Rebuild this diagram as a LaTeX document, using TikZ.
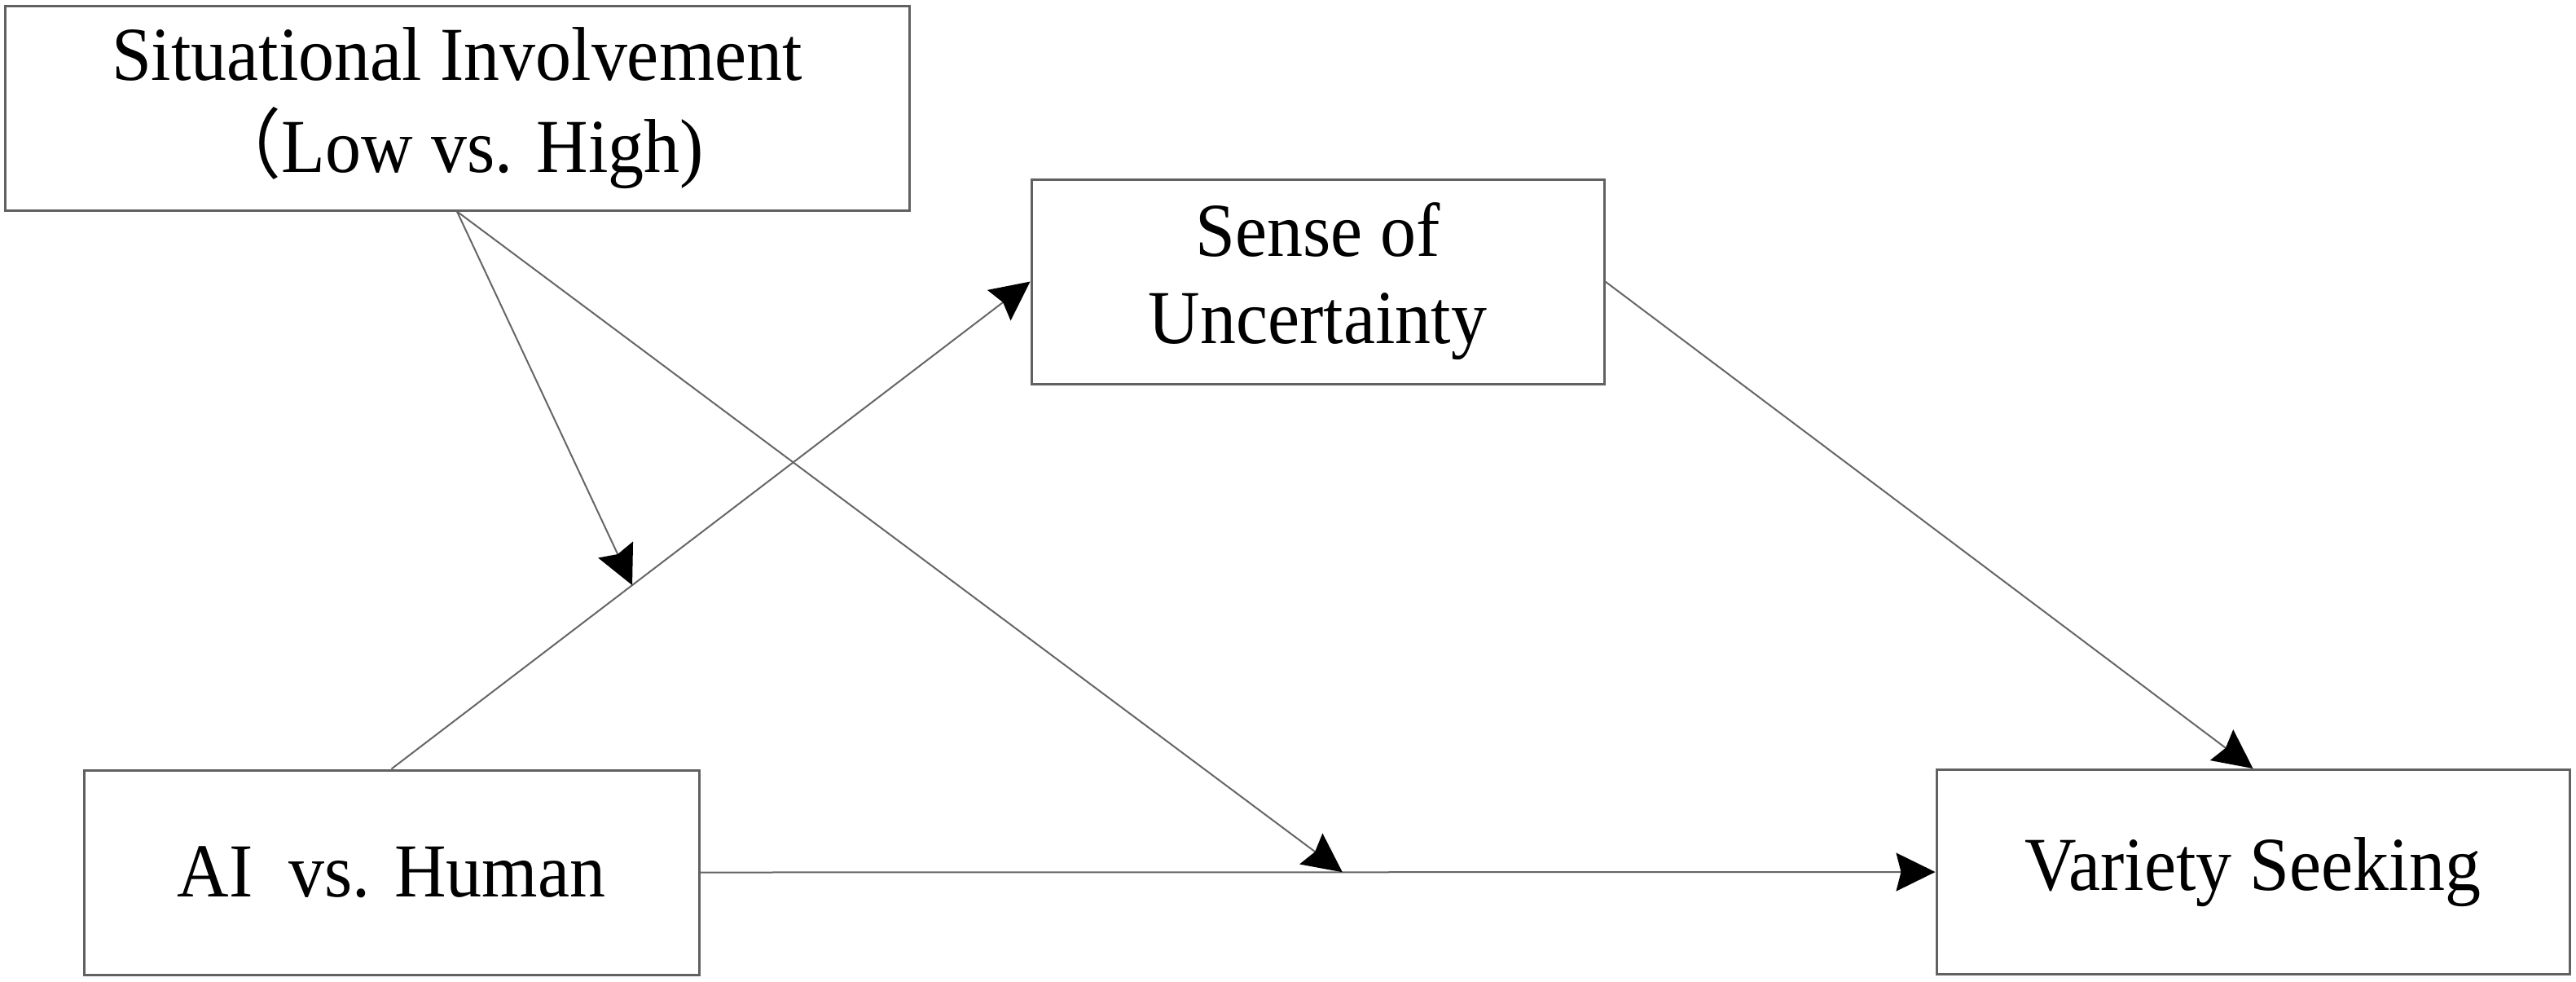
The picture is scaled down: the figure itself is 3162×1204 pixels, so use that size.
\documentclass[tikz,border=0pt]{standalone}
\usepackage{fontspec}
\setmainfont{Liberation Serif}[FakeStretch=0.94]
\newfontfamily\cjk{Noto Sans CJK SC}[FakeStretch=0.94]
\usetikzlibrary{arrows.meta,calc}
\begin{document}
\begin{tikzpicture}[x=0.25pt,y=-0.25pt,
  box/.style={draw=black!62,line width=0.75pt,rectangle,inner sep=0pt,align=center,
    font=\fontsize{23.4pt}{27.5pt}\selectfont,minimum height=62.75pt},
  conn/.style={draw=black!60,line width=0.5pt,
    -{Stealth[length=12pt,width=11.75pt,inset=1.5pt,color=black]}}]
\useasboundingbox[fill=white] (0,0) rectangle (3162,1204);
\node[box,minimum width=277.5pt,font=\fontsize{23.4pt}{28.4pt}\selectfont] (si) at (561,132.5) {Situational Involvement\\{\cjk （}Low vs. High)};
\node[box,minimum width=175.75pt,font=\fontsize{23.4pt}{26.8pt}\selectfont] (su) at (1617.5,345.5) {Sense of\\Uncertainty};
\node[box,minimum width=188.75pt] (ai) at (480.5,1070.5) {AI\ \ vs. Human};
\node[box,minimum width=194.25pt] (vs) at (2765.5,1070) {Variety Seeking};
\coordinate (m1) at ($(ai.north)!0.377!(su.west)$);
\coordinate (m2) at ($(ai.east)!0.52!(vs.west)$);
\draw[conn] (ai.north) -- (su.west);
\draw[conn] (su.east) -- (vs.north);
\draw[conn] (ai.east) -- (vs.west);
\draw[conn] (si.south) -- (m1);
\draw[conn] (si.south) -- (m2);
\end{tikzpicture}
\end{document}
